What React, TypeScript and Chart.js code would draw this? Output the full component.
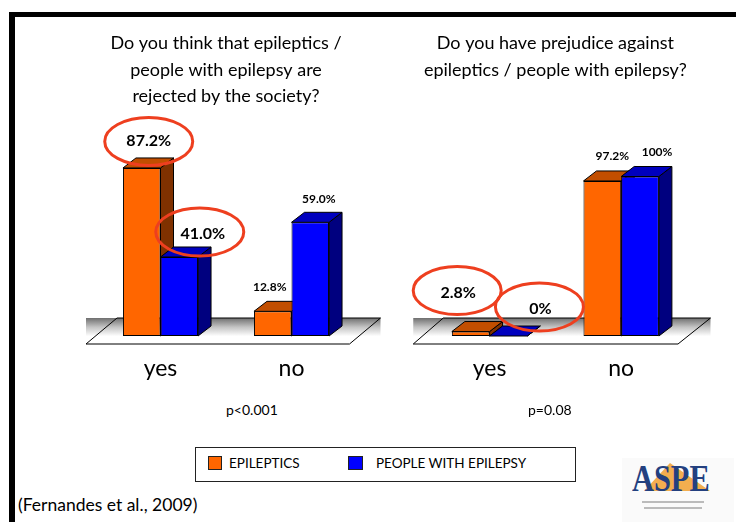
import React, { useEffect, useRef } from 'react';
import { Chart, registerables } from 'chart.js';

Chart.register(...registerables);

// ---------- data ----------
const categories = ['yes', 'no'];
const seriesNames = ['EPILEPTICS', 'PEOPLE WITH EPILEPSY'];

const rejectedTitle = ['Do you think that epileptics /', 'people with epilepsy are', 'rejected by the society?'];
const rejectedEpileptics = [87.2, 12.8];
const rejectedPeopleWithEpilepsy = [41.0, 59.0];
const rejectedPValue = 'p<0.001';

const prejudiceTitle = ['Do you have prejudice against', 'epileptics / people with epilepsy?'];
const prejudiceEpileptics = [2.8, 97.2];
const prejudicePeopleWithEpilepsy = [0, 100];
const prejudicePValue = 'p=0.08';

const citation = '(Fernandes et al., 2009)';

// ---------- styles ----------
const ORANGE = { front: '#FF6600', top: '#C24E00', side: '#7F3100' };
const BLUE = { front: '#0000FF', top: '#0000BE', side: '#00007F' };
const RING = '#EE3F1F';
const FONT = 'Lato, "DejaVu Sans", sans-serif';

function fmt(v: number) {
  return v === 0 || v === 100 ? `${v}%` : `${v.toFixed(1)}%`;
}

const bars3d = {
  id: 'bars3d',
  beforeDatasetsDraw(chart: any, _args: any, opts: any) {
    const { ctx, chartArea: a } = chart;
    const f = opts.floor;
    const backY = a.bottom - f.back;
    const frontY = a.bottom + f.front;
    const pFL = a.left + f.frontLeft;
    const pBL = a.left + f.backLeft;
    const pBR = a.right + f.backRight;
    const pFR = a.right + f.frontRight;
    ctx.save();
    const g = ctx.createLinearGradient(0, backY, 0, frontY);
    g.addColorStop(0, '#6f6f6f');
    g.addColorStop(0.35, '#c4c4c4');
    g.addColorStop(0.7, '#ffffff');
    g.addColorStop(1, '#ffffff');
    ctx.fillStyle = g;
    ctx.fillRect(Math.min(pFL, pBL), backY, Math.max(pBR, pFR) - Math.min(pFL, pBL), frontY - backY);
    ctx.beginPath();
    ctx.moveTo(pBL, backY);
    ctx.lineTo(pBR, backY);
    ctx.lineTo(pFR, frontY);
    ctx.lineTo(pFL, frontY);
    ctx.closePath();
    ctx.strokeStyle = '#000';
    ctx.lineWidth = 1;
    ctx.stroke();

    const dx = opts.depthX;
    const dy = opts.depthY;
    ctx.lineJoin = 'round';
    chart.data.datasets.forEach((_ds: any, di: number) => {
      const meta = chart.getDatasetMeta(di);
      const col = opts.colors[di];
      meta.data.forEach((el: any) => {
        const p = el.getProps(['x', 'y', 'base', 'width'], true);
        const l = p.x - p.width / 2;
        const r = p.x + p.width / 2;
        const t = Math.min(p.y, p.base);
        const b = Math.max(p.y, p.base);
        // side face
        ctx.beginPath();
        ctx.moveTo(r, t);
        ctx.lineTo(r + dx, t + dy);
        ctx.lineTo(r + dx, b + dy);
        ctx.lineTo(r, b);
        ctx.closePath();
        ctx.fillStyle = col.side;
        ctx.fill();
        ctx.stroke();
        // top face
        ctx.beginPath();
        ctx.moveTo(l, t);
        ctx.lineTo(r, t);
        ctx.lineTo(r + dx, t + dy);
        ctx.lineTo(l + dx, t + dy);
        ctx.closePath();
        ctx.fillStyle = col.top;
        ctx.fill();
        ctx.stroke();
      });
    });
    ctx.restore();
  },
  afterDatasetsDraw(chart: any, _args: any, opts: any) {
    const { ctx } = chart;
    ctx.save();
    ctx.textAlign = 'center';
    ctx.textBaseline = 'middle';
    chart.data.datasets.forEach((ds: any, di: number) => {
      const meta = chart.getDatasetMeta(di);
      meta.data.forEach((el: any, i: number) => {
        const p = el.getProps(['x', 'y'], true);
        const ann = opts.annotations[di][i];
        const lx = p.x + ann.dx;
        const ly = p.y + ann.dy;
        ctx.font = ann.ring ? `bold 16px ${FONT}` : `bold 12px ${FONT}`;
        ctx.fillStyle = '#000';
        ctx.fillText(fmt(ds.data[i]), lx, ly);
        if (ann.ring) {
          ctx.beginPath();
          ctx.ellipse(lx + ann.ex, ly + ann.ey, 44, 24, 0, 0, Math.PI * 2);
          ctx.strokeStyle = RING;
          ctx.lineWidth = 3;
          ctx.stroke();
        }
      });
    });
    ctx.restore();
  },
};

type PanelProps = {
  left: number;
  width: number;
  title: string[];
  s1: number[];
  s2: number[];
  padLeft: number;
  padRight: number;
  titlePadBottom: number;
  floor: any;
  annotations: any;
};

const TOP = 14;
const HEIGHT = 372;

function Panel(props: PanelProps) {
  const ref = useRef<HTMLCanvasElement>(null);
  useEffect(() => {
    const chart = new Chart(ref.current as HTMLCanvasElement, {
      type: 'bar',
      data: {
        labels: categories,
        datasets: [
          {
            label: seriesNames[0],
            data: props.s1,
            backgroundColor: ORANGE.front,
            borderColor: '#000',
            borderWidth: 1,
            borderSkipped: false,
            categoryPercentage: 0.573,
            barPercentage: 1,
          },
          {
            label: seriesNames[1],
            data: props.s2,
            backgroundColor: BLUE.front,
            borderColor: '#000',
            borderWidth: 1,
            borderSkipped: false,
            categoryPercentage: 0.573,
            barPercentage: 1,
          },
        ],
      },
      options: {
        responsive: false,
        animation: false,
        devicePixelRatio: 1,
        layout: { padding: { left: props.padLeft, right: props.padRight, top: 0, bottom: 0 } },
        plugins: {
          legend: { display: false },
          tooltip: { enabled: false },
          title: {
            display: true,
            text: props.title,
            color: '#000',
            font: { family: FONT, size: 18, weight: 'normal', lineHeight: 26.6 / 18 },
            padding: { top: 16, bottom: props.titlePadBottom },
          },
          bars3d: {
            depthX: 13,
            depthY: -10,
            colors: [ORANGE, BLUE],
            floor: props.floor,
            annotations: props.annotations,
          },
        } as any,
        scales: {
          x: {
            grid: { display: false, drawTicks: false },
            border: { display: false },
            ticks: { color: '#000', font: { family: FONT, size: 23 }, padding: 19 },
            afterFit: (s: any) => {
              s.height = 50;
            },
          },
          y: { display: false, min: 0, max: 100 },
        },
      } as any,
      plugins: [bars3d as any],
    });
    return () => chart.destroy();
  }, []);
  return (
    <canvas
      ref={ref}
      width={props.width}
      height={HEIGHT}
      style={{ position: 'absolute', left: props.left, top: TOP, width: props.width, height: HEIGHT }}
    />
  );
}

export default function App() {
  const textStyle: React.CSSProperties = { position: 'absolute', fontFamily: FONT, color: '#000', whiteSpace: 'nowrap' };
  return (
    <div
      style={{
        position: 'fixed',
        left: 0,
        top: 0,
        width: 736,
        height: 522,
        background: '#fff',
        overflow: 'hidden',
      }}
    >
      <div
        style={{
          position: 'absolute',
          left: 9,
          top: 12,
          width: 800,
          height: 600,
          borderLeft: '6px solid #000',
          borderTop: '5px solid #000',
        }}
      />
      <Panel
        left={60}
        width={334}
        title={rejectedTitle}
        s1={rejectedEpileptics}
        s2={rejectedPeopleWithEpilepsy}
        padLeft={35}
        padRight={37}
        titlePadBottom={33.5}
        floor={{ back: 18, front: 8, frontLeft: -9, backLeft: 22, backRight: 23.5, frontRight: -7.5 }}
        annotations={[
          [
            { dx: 7, dy: -27, ring: true, ex: 0, ey: 0.5 },
            { dx: -3, dy: -24, ring: false, ex: 0, ey: 0 },
          ],
          [
            { dx: 23.5, dy: -23, ring: true, ex: -3, ey: -2 },
            { dx: 8.5, dy: -23, ring: false, ex: 0, ey: 0 },
          ],
        ]}
      />
      <Panel
        left={392}
        width={334}
        title={prejudiceTitle}
        s1={prejudiceEpileptics}
        s2={prejudicePeopleWithEpilepsy}
        padLeft={31.75}
        padRight={39}
        titlePadBottom={93.3}
        floor={{ back: 18, front: 8, frontLeft: -10.5, backLeft: 19.5, backRight: 23.5, frontRight: -9 }}
        annotations={[
          [
            { dx: -12.5, dy: -39, ring: true, ex: -1, ey: -2 },
            { dx: 10, dy: -25, ring: false, ex: 0, ey: 0 },
          ],
          [
            { dx: 32, dy: -27, ring: true, ex: -1, ey: -2 },
            { dx: 17, dy: -24, ring: false, ex: 0, ey: 0 },
          ],
        ]}
      />
      <div style={{ ...textStyle, left: 226, top: 401, fontSize: 14 }}>{rejectedPValue}</div>
      <div style={{ ...textStyle, left: 528, top: 401, fontSize: 14 }}>{prejudicePValue}</div>

      <div
        style={{
          position: 'absolute',
          left: 195,
          top: 447,
          width: 381,
          height: 35,
          boxSizing: 'border-box',
          border: '1px solid #222',
        }}
      >
        <div style={{ position: 'absolute', left: 12, top: 8, width: 14, height: 14, background: ORANGE.front, border: '1px solid #222', boxSizing: 'border-box' }} />
        <div style={{ ...textStyle, left: 33, top: 7, fontSize: 13.5 }}>{seriesNames[0]}</div>
        <div style={{ position: 'absolute', left: 152, top: 8, width: 15, height: 14, background: BLUE.front, border: '1px solid #222', boxSizing: 'border-box' }} />
        <div style={{ ...textStyle, left: 180, top: 7, fontSize: 13.5 }}>{seriesNames[1]}</div>
      </div>

      <div style={{ ...textStyle, left: 18, top: 494, fontSize: 17.5 }}>{citation}</div>

      <div style={{ position: 'absolute', left: 622, top: 458, width: 112, height: 64, background: '#fafafa' }}>
        <div
          style={{
            position: 'absolute',
            left: 22,
            top: 5,
            width: 0,
            height: 0,
            borderLeft: '26px solid transparent',
            borderRight: '40px solid transparent',
            borderBottom: '28px solid #F0A030',
            opacity: 0.85,
          }}
        />
        <div
          style={{
            position: 'absolute',
            left: 10,
            top: 0,
            fontFamily: '"Liberation Serif", serif',
            fontWeight: 'bold',
            fontSize: 38,
            lineHeight: '40px',
            color: '#23407F',
            transform: 'scaleX(0.8)',
            transformOrigin: 'left top',
          }}
        >
          ASPE
        </div>
        <div style={{ position: 'absolute', left: 20, top: 43, width: 62, height: 2, background: '#bbb' }} />
        <div style={{ position: 'absolute', left: 22, top: 49, width: 58, height: 2, background: '#bbb' }} />
      </div>
    </div>
  );
}
